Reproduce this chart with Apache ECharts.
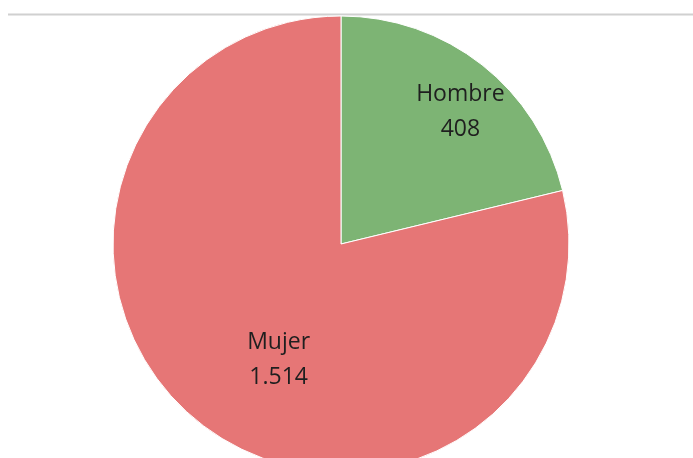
<!DOCTYPE html>
<html>
<head>
<meta charset="utf-8">
<script src="https://cdn.jsdelivr.net/npm/echarts@6/dist/echarts.min.js"></script>
<style>
html,body{margin:0;padding:0;background:#fff;}
#chart{width:693px;height:458px;}
</style>
</head>
<body>
<div id="chart"></div>
<script>
const categories = ['Hombre', 'Mujer'];
const values = [408, 1514];
const colors = ['#7db474', '#e67676'];
const labelOffsets = [[47, -40], [10, 24]];

function fmt(n) {
  return String(n).replace(/\B(?=(\d{3})+(?!\d))/g, '.');
}

const chart = echarts.init(document.getElementById('chart'));
chart.setOption({
  animation: false,
  graphic: [{
    type: 'line',
    shape: { x1: 8, y1: 14.5, x2: 693, y2: 14.5 },
    style: { stroke: '#d0d0d0', lineWidth: 2 },
    z: 0
  }],
  series: [{
    type: 'pie',
    center: [341, 244],
    radius: 228,
    startAngle: 90,
    clockwise: true,
    silent: true,
    z: 2,
    itemStyle: { borderColor: '#ffffff', borderWidth: 1 },
    label: {
      show: true,
      position: 'inside',
      fontFamily: 'Open Sans',
      fontSize: 23,
      lineHeight: 35,
      color: '#1f1f1f',
      formatter: p => p.name + '\n' + fmt(p.value)
    },
    labelLine: { show: false },
    data: categories.map((c, i) => ({
      name: c,
      value: values[i],
      itemStyle: { color: colors[i] },
      label: { offset: labelOffsets[i] }
    }))
  }]
});
</script>
</body>
</html>
